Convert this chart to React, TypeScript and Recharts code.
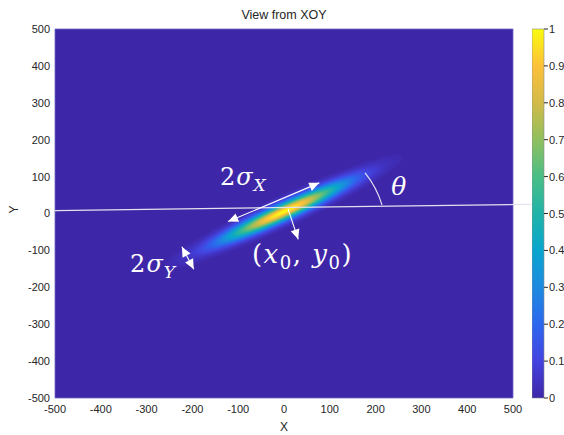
import {
  ScatterChart, Scatter, XAxis, YAxis, CartesianGrid, ReferenceLine, ReferenceArea, ReferenceDot,
  BarChart, Bar,
} from 'recharts';

// chart size and plot box (MATLAB-like layout)
const W = 564;
const H = 435;
const MARGIN = { top: 29, right: 51, bottom: 0, left: 0 };
const YAXIS_W = 55;
const XAXIS_H = 37;
const PLOT_W = W - MARGIN.left - MARGIN.right - YAXIS_W;
const PLOT_H = H - MARGIN.top - MARGIN.bottom - XAXIS_H;

// axes
const xDomain = [-500, 500];
const yDomain = [-500, 500];
const xTicks = [-500, -400, -300, -200, -100, 0, 100, 200, 300, 400, 500];
const yTicks = [-500, -400, -300, -200, -100, 0, 100, 200, 300, 400, 500];
const cbTicks = [0, 0.1, 0.2, 0.3, 0.4, 0.5, 0.6, 0.7, 0.8, 0.9, 1];
const cbLabels = ['0', '0.1', '0.2', '0.3', '0.4', '0.5', '0.6', '0.7', '0.8', '0.9', '1'];

// gaussian: centre, sigmas, angle (deg)
const gaussCenter = [{ x: 0, y: 5 }];
const gaussSigma = [100, 14];
const gaussAngle = [30];

// hand-drawn annotations (data coordinates)
const horizonLine = [{ x: -500, y: 8 }, { x: 541, y: 25 }];
const sigmaXArrow = [{ x: -122, y: -22 }, { x: 77, y: 83 }];
const sigmaYArrow = [{ x: -223, y: -90 }, { x: -197, y: -151 }];
const centerArrow = [{ x: 9, y: 12 }, { x: 31, y: -70 }];
const thetaArc = [{ x: 214, y: 23 }, { x: 177, y: 110 }];
const mathLabels = [
  { x: -140, y: 77, id: 'sx' },
  { x: 234, y: 50, id: 'theta' },
  { x: -70, y: -134, id: 'center' },
  { x: -336, y: -159, id: 'sy' },
];

// parula colormap
const parula: [number, string][] = [
  [0, '#3E26A8'], [0.1, '#4443E0'], [0.2, '#2C67EE'], [0.3, '#1D8AE0'],
  [0.4, '#0AA5CE'], [0.5, '#20B3A8'], [0.6, '#4ABE86'], [0.7, '#8FBF5E'],
  [0.8, '#D2BA48'], [0.9, '#FDC03A'], [1, '#F9FB0E'],
];

const hex = (h: string) => [1, 3, 5].map(i => parseInt(h.slice(i, i + 2), 16));
const parulaAt = (v: number) => {
  for (let i = 1; i < parula.length; i++) {
    const [v1, c1] = parula[i];
    const [v0, c0] = parula[i - 1];
    if (v <= v1) {
      const t = (v - v0) / (v1 - v0);
      const a = hex(c0), b = hex(c1);
      return `rgb(${a.map((x, k) => Math.round(x + (b[k] - x) * t)).join(',')})`;
    }
  }
  return parula[parula.length - 1][1];
};

// radial stops for a circle of radius 3 sigma
const gaussOffsets = [0, 0.05, 0.1, 0.15, 0.2, 0.25, 0.3, 0.35, 0.4, 0.45, 0.5, 0.55, 0.6, 0.65, 0.7, 0.75, 0.8, 0.85, 0.9, 0.95, 1];

const tickStyle = { fontSize: 11, fill: '#262626' };

function GaussShape(props: any) {
  const { cx, cy } = props;
  const th = (gaussAngle[0] * Math.PI) / 180;
  const c = Math.cos(th), s = Math.sin(th);
  const kx = PLOT_W / (xDomain[1] - xDomain[0]);
  const ky = PLOT_H / (yDomain[1] - yDomain[0]);
  const [sx, sy] = gaussSigma;
  const m = [kx * c * sx, -ky * s * sx, -kx * s * sy, -ky * c * sy, cx, cy];
  return <circle cx={0} cy={0} r={3} fill="url(#gauss)" transform={`matrix(${m.join(' ')})`} />;
}

function head(x1: number, y1: number, x2: number, y2: number) {
  // triangle with tip at (x2, y2)
  const ang = Math.atan2(y2 - y1, x2 - x1);
  const len = 10, half = 4.5;
  const bx = x2 - len * Math.cos(ang), by = y2 - len * Math.sin(ang);
  const px = -Math.sin(ang) * half, py = Math.cos(ang) * half;
  return `${x2},${y2} ${bx + px},${by + py} ${bx - px},${by - py}`;
}

function Arrow(props: any, both: boolean) {
  const { x1, y1, x2, y2 } = props;
  return (
    <g>
      <line x1={x1} y1={y1} x2={x2} y2={y2} stroke="#fff" strokeWidth={1.1} />
      <polygon points={head(x1, y1, x2, y2)} fill="#fff" />
      {both && <polygon points={head(x2, y2, x1, y1)} fill="#fff" />}
    </g>
  );
}

function Arc(props: any) {
  const { x1, y1, x2, y2 } = props;
  return <path d={`M${x1},${y1} A95,95 0 0 0 ${x2},${y2}`} fill="none" stroke="#e8e8f4" strokeWidth={1.1} />;
}

const subDy = 6;
function MathLabel(props: any) {
  const { cx, cy, payload } = props;
  const common = { fill: '#fff', fontFamily: '"DejaVu Serif", serif', fontSize: 24 };
  const sub = { fontSize: 17 };
  if (payload.id === 'theta') {
    return <text x={cx} y={cy} {...common} fontSize={25} fontStyle="italic">θ</text>;
  }
  if (payload.id === 'center') {
    return (
      <text x={cx} y={cy} {...common} fontSize={26} letterSpacing={1.5}>
        <tspan>(</tspan>
        <tspan fontStyle="italic">x</tspan>
        <tspan fontSize={18} dy={subDy}>0</tspan>
        <tspan dy={-subDy}>, </tspan>
        <tspan fontStyle="italic">y</tspan>
        <tspan fontSize={18} dy={subDy}>0</tspan>
        <tspan dy={-subDy}>)</tspan>
      </text>
    );
  }
  return (
    <text x={cx} y={cy} {...common} letterSpacing={1}>
      <tspan>2</tspan>
      <tspan fontStyle="italic">σ</tspan>
      <tspan {...sub} fontStyle="italic" dy={subDy}>{payload.id === 'sx' ? 'X' : 'Y'}</tspan>
    </text>
  );
}

function CbTick(props: any) {
  const { x, y, payload } = props;
  const i = cbTicks.indexOf(payload.value);
  return (
    <text x={x} y={y} dy={4} fontSize={11} fill="#262626" textAnchor="start">
      {cbLabels[i]}
    </text>
  );
}

export default function App() {
  return (
    <div
      style={{
        position: 'fixed', left: 0, top: 0, width: W, height: H, overflow: 'hidden',
        background: '#fff', fontFamily: '"Liberation Sans", Arial, sans-serif',
      }}
    >
      <div
        style={{
          position: 'absolute', left: YAXIS_W, width: PLOT_W, top: 8, lineHeight: '14px',
          textAlign: 'center', fontSize: 12.5, color: '#262626',
        }}
      >
        View from XOY
      </div>

      <ScatterChart width={W} height={H} margin={MARGIN}>
        <defs>
          <radialGradient id="gauss" cx="50%" cy="50%" r="50%">
            {gaussOffsets.map(o => (
              <stop key={o} offset={o} stopColor={parulaAt(Math.exp(-4.5 * o * o))} />
            ))}
          </radialGradient>
        </defs>
        <CartesianGrid fill="#3E26A8" horizontal={false} vertical={false} />
        <XAxis
          type="number" dataKey="x" domain={xDomain} ticks={xTicks} interval={0}
          height={XAXIS_H} tickSize={0} tickMargin={7} axisLine={false} tick={tickStyle}
          allowDataOverflow
          label={{ value: 'X', position: 'insideBottom', offset: 4, fontSize: 12, fill: '#262626' }}
        />
        <YAxis
          type="number" dataKey="y" domain={yDomain} ticks={yTicks} interval={0}
          width={YAXIS_W} tickSize={0} tickMargin={5} axisLine={false} tick={tickStyle}
          allowDataOverflow
          label={{ value: 'Y', angle: -90, position: 'insideLeft', offset: 14, fontSize: 12, fill: '#262626' }}
        />
        <ReferenceArea
          x1={xDomain[0]} x2={xDomain[1]} y1={yDomain[0]} y2={yDomain[1]}
          fill="none" stroke="#7068c0" strokeWidth={0.8} ifOverflow="visible"
        />
        <ReferenceDot
          x={gaussCenter[0].x} y={gaussCenter[0].y} shape={GaussShape} ifOverflow="visible" zIndex={50}
        />
        <ReferenceLine segment={horizonLine} stroke="#e2e2ee" strokeWidth={1.2} ifOverflow="visible" zIndex={700} />
        <ReferenceLine segment={sigmaXArrow} ifOverflow="visible" zIndex={700} shape={(p: any) => Arrow(p, true)} />
        <ReferenceLine segment={sigmaYArrow} ifOverflow="visible" zIndex={700} shape={(p: any) => Arrow(p, true)} />
        <ReferenceLine segment={centerArrow} ifOverflow="visible" zIndex={700} shape={(p: any) => Arrow(p, false)} />
        <ReferenceLine segment={thetaArc} ifOverflow="visible" zIndex={700} shape={Arc} />
        <Scatter data={mathLabels} shape={MathLabel} isAnimationActive={false} />
      </ScatterChart>

      <div style={{ position: 'absolute', left: 532, top: 0 }}>
        <BarChart
          width={W - 532} height={H} data={[{ name: 'cb', v: 1 }]}
          margin={{ top: MARGIN.top, right: 0, bottom: XAXIS_H, left: 0 }} barCategoryGap={0}
        >
          <defs>
            <linearGradient id="cbGrad" x1="0" y1="1" x2="0" y2="0">
              {parula.map(([v, c]) => <stop key={v} offset={v} stopColor={c} />)}
            </linearGradient>
          </defs>
          <XAxis dataKey="name" hide />
          <YAxis
            orientation="right" width={20} domain={[0, 1]} ticks={cbTicks} interval={0}
            tickSize={4} tickMargin={1} axisLine={false} tick={<CbTick />}
            tickLine={{ stroke: '#262626' }}
          />
          <Bar dataKey="v" fill="url(#cbGrad)" stroke="#8c8c8c" strokeWidth={0.6} isAnimationActive={false} />
        </BarChart>
      </div>
    </div>
  );
}
